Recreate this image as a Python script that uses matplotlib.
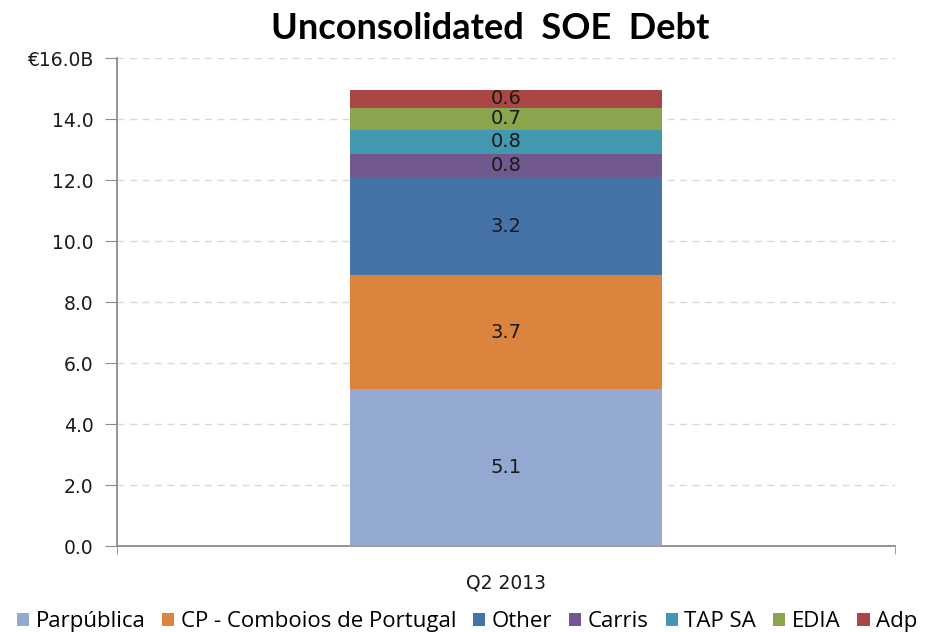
import matplotlib
matplotlib.use("Agg")
import matplotlib.pyplot as plt
from matplotlib.patches import Patch
from matplotlib.ticker import FixedLocator

# Debt by company, € billions
categories = ["Q2 2013"]
companies = ["Parpública", "CP - Comboios de Portugal", "Other", "Carris",
             "TAP SA", "EDIA", "Adp"]
values = [5.14, 3.74, 3.22, 0.76, 0.79, 0.72, 0.59]
colors = ["#94A9D1", "#DB843D", "#4572A7", "#71588F", "#4198AF", "#89A54E", "#AA4643"]
yticks = [0, 2, 4, 6, 8, 10, 12, 14, 16]
ytick_labels = ["0.0", "2.0", "4.0", "6.0", "8.0", "10.0", "12.0", "14.0", "€16.0B"]

fig = plt.figure(figsize=(9.25, 6.32), dpi=100)
ax = fig.add_axes([0.1265, 0.136, 0.841, 0.772])

bottom = 0.0
for name, v, c in zip(companies, values, colors):
    ax.bar(0, v, bottom=bottom, width=0.4, color=c, label=name, zorder=3)
    ax.text(0, bottom + v / 2, f"{v:.1f}", ha="center", va="center",
            fontsize=14, color="#1a1a1a", zorder=4)
    bottom += v

ax.set_xlim(-0.5, 0.5)
ax.set_ylim(0, 16)
ax.set_yticks(yticks)
ax.set_yticklabels(ytick_labels, fontsize=13.5, color="#1a1a1a")
ax.set_xticks([0])
ax.set_xticklabels(categories, fontsize=13.5, color="#1a1a1a")
ax.xaxis.set_minor_locator(FixedLocator([-0.5, 0.5]))
ax.tick_params(axis="x", which="major", length=0, pad=20)
ax.tick_params(axis="x", which="minor", length=6, color="#8c8c8c", direction="out")
ax.tick_params(axis="y", length=9, color="#8c8c8c", direction="out", pad=8)

ax.grid(axis="y", linestyle=(0, (5, 4)), color="#d9d9d9", linewidth=1, zorder=0)
for side in ("top", "right"):
    ax.spines[side].set_visible(False)
for side in ("left", "bottom"):
    ax.spines[side].set_color("#8c8c8c")
    ax.spines[side].set_linewidth(1.3)

fig.text(0.53, 0.955, "Unconsolidated  SOE  Debt", ha="center", va="center",
         fontsize=26, fontweight="bold", family="Lato")

handles = [Patch(facecolor=c, label=n) for n, c in zip(companies, colors)]
fig.legend(handles=handles, loc="center", bbox_to_anchor=(0.505, 0.016), ncol=7,
           frameon=False, handlelength=0.55, handleheight=0.55,
           handletextpad=0.3, columnspacing=0.75,
           prop={"family": ["Open Sans", "DejaVu Sans"], "size": 16})

fig.savefig("out.png", dpi=100)
